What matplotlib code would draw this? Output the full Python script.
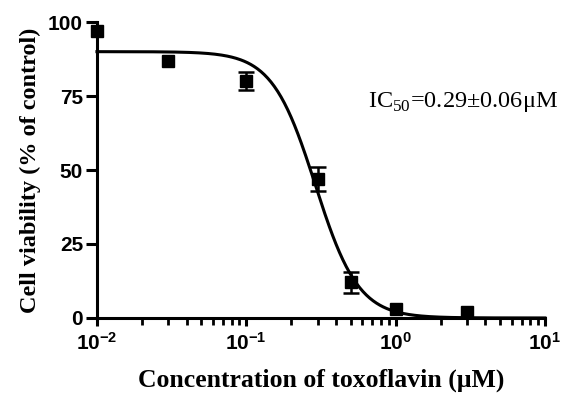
import numpy as np
import matplotlib
matplotlib.use("Agg")
import matplotlib.pyplot as plt

# data
conc = [0.01, 0.03, 0.1, 0.3, 0.5, 1.0, 3.0]
viability = [97, 87, 80, 47, 12, 3, 2]
err = [0.0, 0.0, 3.0, 4.0, 3.5, 0.0, 0.0]

# fitted curve parameters
top, bottom = 90.0, 0.0
ic50 = 0.29
hill = 3.0

plt.rcParams['mathtext.fontset'] = 'custom'
plt.rcParams['mathtext.bf'] = 'Liberation Sans:bold'
plt.rcParams['mathtext.rm'] = 'Liberation Serif'

fig = plt.figure(figsize=(5.67, 3.94), dpi=100)
ax = fig.add_axes([0.171, 0.193, 0.790, 0.751])

xs = np.logspace(-2, 1, 400)
ys = bottom + (top - bottom) / (1 + (xs / ic50) ** hill)
ax.plot(xs, ys, color='black', lw=2.2, clip_on=False, zorder=2)

# error bars only where they stick out of the marker
eb = [(c, v, e) for c, v, e in zip(conc, viability, err) if e > 0]
ax.errorbar([p[0] for p in eb], [p[1] for p in eb], yerr=[p[2] for p in eb],
            fmt='none', ecolor='black', elinewidth=1.8, capsize=6,
            capthick=1.8, clip_on=False, zorder=3)
ax.plot(conc, viability, 's', color='black', ms=8, clip_on=False, zorder=4)

ax.set_xscale('log')
ax.set_xlim(0.01, 10)
ax.set_ylim(0, 100)
ax.set_yticks([0, 25, 50, 75, 100])
ax.set_xticks([0.01, 0.1, 1, 10])
ax.set_xticklabels([r'$\mathbf{10^{-2}}$', r'$\mathbf{10^{-1}}$',
                    r'$\mathbf{10^{0}}$', r'$\mathbf{10^{1}}$'])

for s in ['top', 'right']:
    ax.spines[s].set_visible(False)
for s in ['left', 'bottom']:
    ax.spines[s].set_linewidth(2.2)

ax.tick_params(axis='y', which='major', direction='out', length=8, width=2.2,
               labelsize=15, pad=2)
ax.tick_params(axis='x', which='major', direction='out', length=6, width=2.2,
               labelsize=15, pad=4)
ax.tick_params(which='minor', direction='out', length=5, width=2.0)
for lab in ax.get_yticklabels():
    lab.set_family('Liberation Sans')
    lab.set_weight('bold')

ax.set_xlabel('Concentration of toxoflavin (\u03bcM)', family='Liberation Serif',
              weight='bold', fontsize=18.5, labelpad=11)
ax.set_ylabel('Cell viability (% of control)', family='Liberation Serif',
              weight='bold', fontsize=17.5, labelpad=5)

ax.text(0.605, 0.73, 'IC$_{\\mathrm{50}}$=0.29\u00b10.06\u03bcM',
        transform=ax.transAxes, family='Liberation Serif', fontsize=17.5,
        va='center')

fig.savefig('out.png', dpi=100)
